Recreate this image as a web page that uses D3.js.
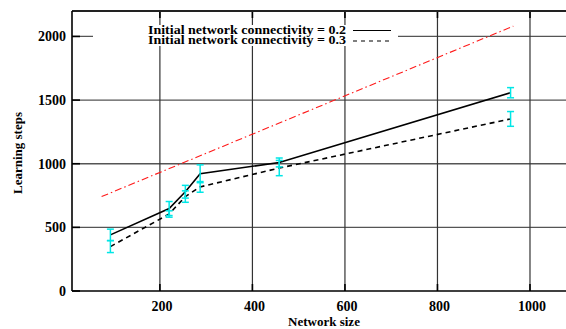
<!DOCTYPE html>
<html>
<head>
<meta charset="utf-8">
<script src="https://cdn.jsdelivr.net/npm/d3@7"></script>
<style>
  body { margin: 0; background: #fff; }
  svg { display: block; }
  text { font-family: "Liberation Serif", "DejaVu Serif", serif; font-weight: bold; fill: #000; }
</style>
</head>
<body>
<svg id="chart" width="566" height="329"></svg>
<script>
// network sizes where runs were made
let sizes = [93, 220, 255, 287, 458, 958];
// connectivity 0.2 (solid)
let steps02 = [441, 648, 780, 921, 1010, 1558];
let err02 = [45, 55, 50, 70, 35, 40];
// connectivity 0.3 (dashed)
let steps03 = [349, 605, 742, 818, 966, 1352];
let err03 = [47, 25, 45, 42, 60, 58];
// red dash-dot reference line (end points)
let refX = [74, 964];
let refY = [742, 2081];

let xTicks = [200, 400, 600, 800, 1000];
let yTicks = [0, 500, 1000, 1500, 2000];
let legendLabels = ['Initial network connectivity = 0.2', 'Initial network connectivity = 0.3'];

let svg = d3.select('#chart');
let pLeft = 72, pTop = 11, pBottom = 291, pRight = 567;

let x = d3.scaleLinear().domain([10, 1080]).range([pLeft, pRight]);
let y = d3.scaleLinear().domain([0, 2200]).range([pBottom, pTop]);

// grid
svg.append('g').selectAll('line').data(yTicks.filter(d => d > 0)).enter().append('line')
  .attr('x1', pLeft).attr('x2', 566)
  .attr('y1', d => y(d)).attr('y2', d => y(d))
  .attr('stroke', '#555').attr('stroke-width', 1.3);
svg.append('g').selectAll('line').data(xTicks).enter().append('line')
  .attr('x1', d => x(d)).attr('x2', d => x(d))
  .attr('y1', pTop).attr('y2', pBottom)
  .attr('stroke', '#333').attr('stroke-width', 1.2);

// ticks (inward, top/bottom/left)
let tk = svg.append('g').attr('stroke', '#000').attr('stroke-width', 1.6);
xTicks.forEach(d => {
  tk.append('line').attr('x1', x(d)).attr('x2', x(d)).attr('y1', pTop).attr('y2', pTop + 7);
  tk.append('line').attr('x1', x(d)).attr('x2', x(d)).attr('y1', pBottom).attr('y2', pBottom - 7);
});
yTicks.forEach(d => {
  tk.append('line').attr('x1', pLeft).attr('x2', pLeft + 8).attr('y1', y(d)).attr('y2', y(d));
});

// frame
svg.append('line').attr('x1', pLeft).attr('x2', 566).attr('y1', pTop).attr('y2', pTop)
  .attr('stroke', '#222').attr('stroke-width', 2.2);
svg.append('line').attr('x1', pLeft).attr('x2', 566).attr('y1', pBottom).attr('y2', pBottom)
  .attr('stroke', '#000').attr('stroke-width', 1.6);
svg.append('line').attr('x1', pLeft).attr('x2', pLeft).attr('y1', pTop).attr('y2', pBottom)
  .attr('stroke', '#000').attr('stroke-width', 1.6);

// tick labels
svg.append('g').selectAll('text').data(xTicks).enter().append('text')
  .attr('x', d => x(d) + 2).attr('y', 311)
  .attr('text-anchor', 'middle').attr('font-size', 14)
  .text(d => d);
svg.append('g').selectAll('text').data(yTicks).enter().append('text')
  .attr('x', 66).attr('y', d => y(d) + 5)
  .attr('text-anchor', 'end').attr('font-size', 14)
  .text(d => d);

// axis titles
svg.append('text').attr('x', 324).attr('y', 326).attr('text-anchor', 'middle')
  .attr('font-size', 13).text('Network size');
svg.append('text').attr('transform', 'translate(22,153) rotate(-90)').attr('text-anchor', 'middle')
  .attr('font-size', 13).text('Learning steps');

// red reference line
let ref = refX.map((d, i) => [d, refY[i]]);
svg.append('path').datum(ref)
  .attr('d', d3.line().x(d => x(d[0])).y(d => y(d[1])))
  .attr('fill', 'none').attr('stroke', '#ff1a1a').attr('stroke-width', 1.1)
  .attr('stroke-dasharray', '7,3,1.5,3');

let line = d3.line().x(d => x(d[0])).y(d => y(d[1]));
let s02 = sizes.map((d, i) => [d, steps02[i]]);
let s03 = sizes.map((d, i) => [d, steps03[i]]);

svg.append('path').datum(s02).attr('d', line)
  .attr('fill', 'none').attr('stroke', '#000').attr('stroke-width', 1.6);
svg.append('path').datum(s03).attr('d', line)
  .attr('fill', 'none').attr('stroke', '#000').attr('stroke-width', 1.6)
  .attr('stroke-dasharray', '5,4');

// error bars
function errorBars(vals, errs) {
  let g = svg.append('g').attr('stroke', '#00e6e6').attr('stroke-width', 1.5);
  sizes.forEach((s, i) => {
    let cx = x(s), y0 = y(vals[i] - errs[i]), y1 = y(vals[i] + errs[i]);
    g.append('line').attr('x1', cx).attr('x2', cx).attr('y1', y0).attr('y2', y1);
    g.append('line').attr('x1', cx - 3.5).attr('x2', cx + 3.5).attr('y1', y0).attr('y2', y0);
    g.append('line').attr('x1', cx - 3.5).attr('x2', cx + 3.5).attr('y1', y1).attr('y2', y1);
  });
}
errorBars(steps02, err02);
errorBars(steps03, err03);

// legend (opaque box)
svg.append('rect').attr('x', 93).attr('y', 25).attr('width', 305).attr('height', 21).attr('fill', '#fff');
let lg = svg.append('g');
lg.selectAll('text').data(legendLabels).enter().append('text')
  .attr('x', 148).attr('y', (d, i) => 34 + i * 10)
  .attr('font-size', 12)
  .attr('textLength', 198).attr('lengthAdjust', 'spacingAndGlyphs')
  .text(d => d);
lg.append('line').attr('x1', 353).attr('x2', 391).attr('y1', 30.5).attr('y2', 30.5)
  .attr('stroke', '#000').attr('stroke-width', 1.2);
lg.append('line').attr('x1', 353).attr('x2', 391).attr('y1', 41).attr('y2', 41)
  .attr('stroke', '#000').attr('stroke-width', 1.2).attr('stroke-dasharray', '4,4');
</script>
</body>
</html>
